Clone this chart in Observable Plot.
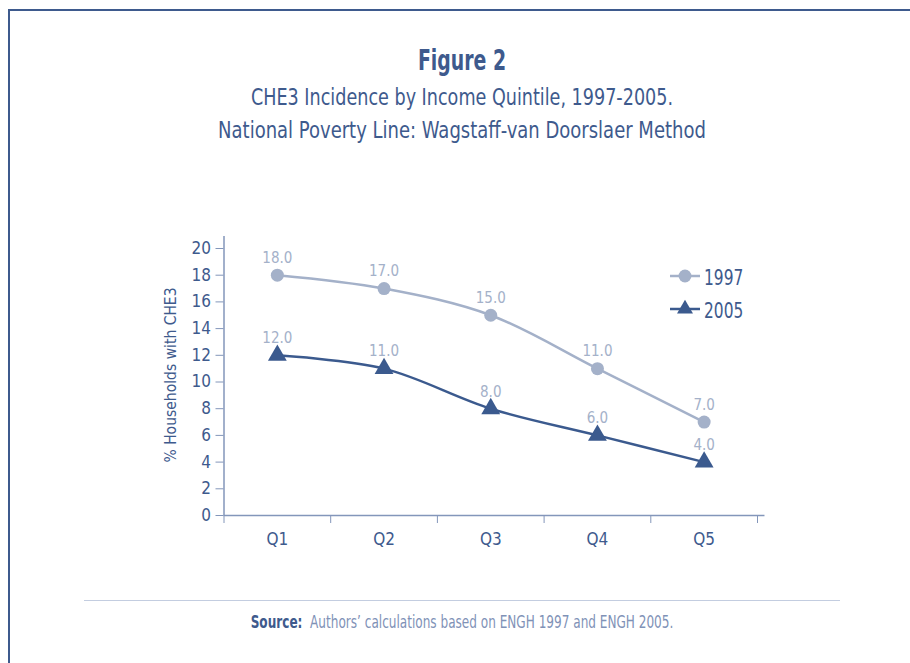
<!DOCTYPE html>
<html>
<head>
<meta charset="utf-8">
<script src="https://cdn.jsdelivr.net/npm/d3@7"></script>
<script src="https://cdn.jsdelivr.net/npm/@observablehq/plot@0.6"></script>
<style>
  html, body { margin: 0; padding: 0; background: #fff; }
  body { width: 910px; height: 663px; overflow: hidden; position: relative;
         font-family: "DejaVu Sans Condensed", "DejaVu Sans", sans-serif; font-stretch: condensed; color: #3e5a8d; }
  #frame { position: absolute; left: 8px; top: 9px; width: 940px; height: 700px;
           border-left: 2px solid #3e5a8d; border-top: 2px solid #3e5a8d; box-sizing: border-box; }
  #header { position: absolute; left: 0; top: 0; width: 924px; height: 200px; text-align: center; }
  #header .t { position: absolute; left: 0; width: 100%; transform-origin: 462px 50%; white-space: nowrap; }
  #chart { position: absolute; left: 0; top: 200px; }
  #footer { position: absolute; left: 0; top: 580px; width: 910px; height: 83px; }
  #rule { position: absolute; left: 84px; top: 20px; width: 756px; height: 0; border-top: 1.5px solid #c3cde0; }
  #source { position: absolute; left: 0; width: 924px; top: 32px; text-align: center; font-size: 17px; color: #7f92b7;
            transform: scaleX(0.79); transform-origin: 462px 50%; white-space: nowrap; }
  #source b { color: #3e5a8d; }
</style>
</head>
<body>
<div id="frame"></div>
<div id="header">
  <div class="t" style="top:44px; font-size:28px; font-weight:bold; transform: scaleX(0.75);">Figure 2</div>
  <div class="t" style="top:84px; font-size:23px; transform: scaleX(0.85);">CHE3 Incidence by Income Quintile, 1997-2005.</div>
  <div class="t" style="top:117px; font-size:23px; transform: scaleX(0.87);">National Poverty Line: Wagstaff-van Doorslaer Method</div>
</div>
<div id="chart"></div>
<div id="footer">
  <div id="rule"></div>
  <div id="source"><b>Source:</b>&nbsp; Authors’ calculations based on ENGH 1997 and ENGH 2005.</div>
</div>
<script>
const quintiles = ["Q1", "Q2", "Q3", "Q4", "Q5"];
const years = ["1997", "2005"];
const values1997 = [18.0, 17.0, 15.0, 11.0, 7.0];
const values2005 = [12.0, 11.0, 8.0, 6.0, 4.0];
const yTicks = [0, 2, 4, 6, 8, 10, 12, 14, 16, 18, 20];

const light = "#a4b1c9";
const dark = "#3b5a8e";
const textColor = "#3e5a8d";
const axisColor = "#8396ba";
const fontFam = '"DejaVu Sans Condensed", "DejaVu Sans", sans-serif';

const rows = [];
quintiles.forEach((q, i) => {
  rows.push({q, i: i + 1, year: years[0], v: values1997[i]});
  rows.push({q, i: i + 1, year: years[1], v: values2005[i]});
});
const r97 = rows.filter(d => d.year === "1997");
const r05 = rows.filter(d => d.year === "2005");
const edges = d3.range(0, quintiles.length + 1).map(k => k + 0.5);

const plot = Plot.plot({
  width: 910,
  height: 380,
  marginLeft: 223.5,
  marginRight: 153,
  marginTop: 48,
  marginBottom: 65,
  style: { fontFamily: fontFam, background: "transparent" },
  x: { type: "linear", domain: [0.5, quintiles.length + 0.5] },
  y: { domain: [0, 20] },
  marks: [
    Plot.ruleX([0.5], { y1: 0, y2: 20.9, stroke: axisColor, strokeWidth: 1.5 }),
    Plot.ruleY([0], { x1: 0.5, x2: 5.57, stroke: axisColor, strokeWidth: 1.5 }),
    Plot.axisY({ ticks: yTicks, tickSize: 8, tickPadding: 5, fontSize: 17, color: textColor, stroke: axisColor, label: null }),
    Plot.axisX({ ticks: edges, tickSize: 8, tickFormat: () => "", stroke: axisColor, label: null }),
    Plot.axisX({ ticks: d3.range(1, quintiles.length + 1), tickSize: 0, tickPadding: 17, tickFormat: i => quintiles[i - 1], fontSize: 17, color: textColor, label: null }),
    Plot.text(["% Households with CHE3"], { frameAnchor: "left", textAnchor: "middle", dx: -53, dy: -7, rotate: -90, fontSize: 15.5, fill: textColor }),
    Plot.line(r97, { x: "i", y: "v", curve: "catmull-rom", stroke: light, strokeWidth: 2.5 }),
    Plot.line(r05, { x: "i", y: "v", curve: "catmull-rom", stroke: dark, strokeWidth: 2.5 }),
    Plot.dot(r97, { x: "i", y: "v", r: 6.5, fill: light, symbol: "circle" }),
    Plot.dot(r05, { x: "i", y: "v", r: 7, fill: dark, symbol: "triangle" }),
    Plot.text(rows, { x: "i", y: "v", text: d => d.v.toFixed(1), dy: -17, fontSize: 15, fill: light })
  ]
});
document.getElementById("chart").appendChild(plot);

// legend
const svg = d3.select(plot);
const lg = svg.append("g").attr("font-family", fontFam).attr("text-anchor", "start");
const legendItems = [
  { label: years[0], color: light, sym: d3.symbolCircle, size: 130, y: 76 },
  { label: years[1], color: dark, sym: d3.symbolTriangle, size: 110, y: 109 }
];
legendItems.forEach(it => {
  lg.append("line").attr("x1", 670).attr("x2", 700).attr("y1", it.y).attr("y2", it.y)
    .attr("stroke", it.color).attr("stroke-width", 2.5);
  lg.append("path").attr("d", d3.symbol(it.sym, it.size)()).attr("transform", `translate(685,${it.y})`).attr("fill", it.color);
  lg.append("text").attr("transform", `translate(704,${it.y + 1}) scale(0.78,1)`).attr("dy", "0.35em").attr("font-size", 22)
    .attr("fill", textColor).text(it.label);
});
</script>
</body>
</html>
